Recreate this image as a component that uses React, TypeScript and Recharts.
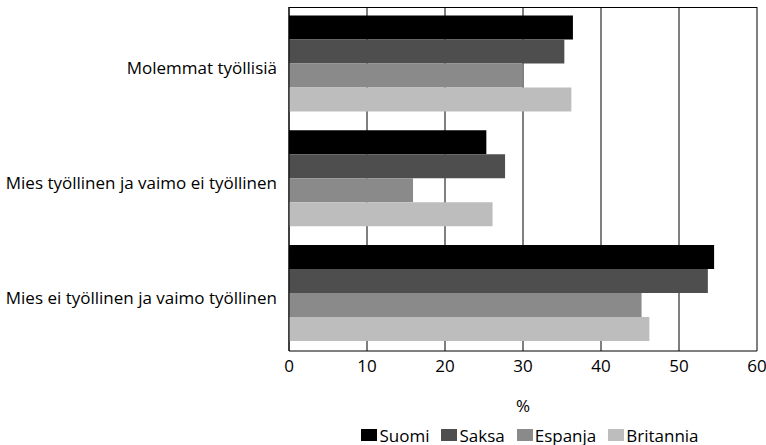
import React from 'react';
import { BarChart, Bar, XAxis, YAxis, CartesianGrid, Legend } from 'recharts';

const categories = [
  'Molemmat työllisiä',
  'Mies työllinen ja vaimo ei työllinen',
  'Mies ei työllinen ja vaimo työllinen',
];
const suomi = [36.4, 25.3, 54.5];
const saksa = [35.3, 27.7, 53.7];
const espanja = [29.9, 15.9, 45.2];
const britannia = [36.2, 26.1, 46.2];
const xTicks = [0, 10, 20, 30, 40, 50, 60];

const seriesNames = ['Suomi', 'Saksa', 'Espanja', 'Britannia'];
const seriesColors = ['#000000', '#4e4e4e', '#8a8a8a', '#bdbdbd'];

const data = categories.map((name, i) => ({
  name,
  Suomi: suomi[i],
  Saksa: saksa[i],
  Espanja: espanja[i],
  Britannia: britannia[i],
}));

const FONT = '"Open Sans", sans-serif';

function LegendBox() {
  return (
    <div
      style={{
        height: 34,
        paddingTop: 14,
        boxSizing: 'border-box',
        display: 'flex',
        justifyContent: 'center',
        alignItems: 'center',
        fontFamily: FONT,
        fontSize: 17,
        lineHeight: '19px',
        color: '#000',
      }}
    >
      {seriesNames.map((s, i) => (
        <span key={s} style={{ display: 'flex', alignItems: 'center', marginRight: i < 3 ? 12 : 0 }}>
          <span
            style={{
              display: 'inline-block',
              width: 16,
              height: 12,
              background: seriesColors[i],
              marginRight: 2,
            }}
          />
          {s}
        </span>
      ))}
    </div>
  );
}

export default function App() {
  return (
    <div style={{ position: 'absolute', left: 0, top: 0, background: '#fff' }}>
      <BarChart
        width={766}
        height={445}
        data={data}
        layout="vertical"
        margin={{ top: 7, right: 9, left: 0, bottom: 0 }}
        barCategoryGap="7.5%"
        barGap={0}
        style={{ fontFamily: FONT }}
      >
        <CartesianGrid
          stroke="#000"
          strokeWidth={1}
          vertical={true}
          horizontal={true}
          horizontalPoints={[7.5]}
        />
        <XAxis
          type="number"
          domain={[0, 60]}
          ticks={xTicks}
          tickLine={false}
          tickMargin={3}
          axisLine={{ stroke: '#000' }}
          height={60}
          tick={{ fontSize: 17, fill: '#000' }}
          label={{ value: '%', position: 'insideBottom', offset: -1, fontSize: 17, fill: '#000' }}
        />
        <YAxis
          type="category"
          dataKey="name"
          width={289}
          tickLine={false}
          tickMargin={6}
          axisLine={{ stroke: '#000' }}
          tick={{ fontSize: 17, fill: '#000', dy: 4 }}
        />
        <Legend
          verticalAlign="bottom"
          content={<LegendBox />}
          wrapperStyle={{ left: 296, width: 468, bottom: 0 }}
        />
        {seriesNames.map((s, i) => (
          <Bar key={s} dataKey={s} fill={seriesColors[i]} isAnimationActive={false} />
        ))}
      </BarChart>
    </div>
  );
}
